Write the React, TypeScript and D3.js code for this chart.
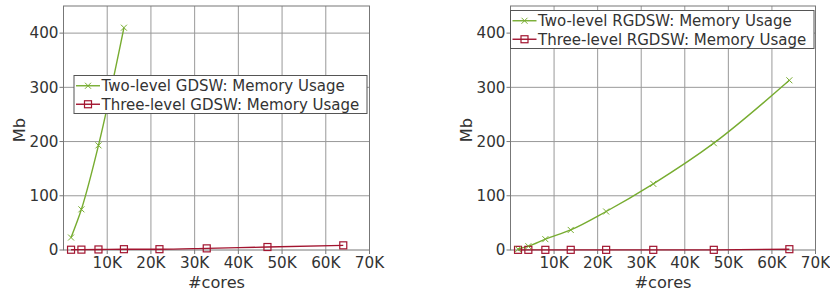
import React from "react";
import * as d3 from "d3";

const cores = [1728, 4096, 8000, 13824, 21952, 32768, 46656, 64000];
const twoGDSW = [23, 75, 193, 410];
const threeGDSW = [0.5, 0.7, 1, 1.5, 1.5, 3, 5.5, 8.6];
const twoRGDSW = [1.5, 7, 20, 37, 71, 122, 197, 313];
const threeRGDSW = [0.3, 0.3, 0.3, 0.3, 0.3, 0.3, 0.3, 1.5];
const xTicks = [10000, 20000, 30000, 40000, 50000, 60000, 70000];
const yTicks = [0, 100, 200, 300, 400];
const legendLeft = ["Two-level GDSW: Memory Usage", "Three-level GDSW: Memory Usage"];
const legendRight = ["Two-level RGDSW: Memory Usage", "Three-level RGDSW: Memory Usage"];

const GREEN = "#77ac30";
const RED = "#a2142f";
const FONT = "DejaVu Sans, sans-serif";
const TXT = "#333";
const TICK_FS = 15.2;
const LEG_FS = 15;
const TITLE_FS = 16.2;

type PanelProps = {
  x0: number;
  x1: number;
  green: number[];
  red: number[];
  legend: string[];
  lx0: number;
  lx1: number;
  ly0: number;
};

function Marker({ kind, x, y }: { kind: string; x: number; y: number }) {
  if (kind === "x") {
    const s = 3;
    return (
      <g stroke={GREEN} strokeWidth={1}>
        <line x1={x - s} y1={y - s} x2={x + s} y2={y + s} />
        <line x1={x - s} y1={y + s} x2={x + s} y2={y - s} />
      </g>
    );
  }
  return <rect x={x - 3.5} y={y - 3.5} width={7} height={7} fill="none" stroke={RED} strokeWidth={1.2} />;
}

function Panel({ x0, x1, green, red, legend, lx0, lx1, ly0 }: PanelProps) {
  const top = 6;
  const bottom = 250;
  const x = d3.scaleLinear().domain([0, 70000]).range([x0, x1]);
  const y = d3.scaleLinear().domain([0, 450]).range([bottom, top]);
  const line = d3
    .line<[number, number]>()
    .x((d) => x(d[0]))
    .y((d) => y(d[1]))
    .curve(d3.curveMonotoneX);
  const gPts: [number, number][] = green.map((v, i) => [cores[i], v]);
  const rPts: [number, number][] = red.map((v, i) => [cores[i], v]);
  const rowH = 18.5;
  return (
    <g>
      <rect x={x0} y={top} width={x1 - x0} height={bottom - top} fill="white" />
      {xTicks.slice(0, -1).map((t) => (
        <line key={"gx" + t} x1={x(t)} x2={x(t)} y1={top} y2={bottom} stroke="#999" strokeWidth={1} />
      ))}
      {yTicks.slice(1).map((t) => (
        <line key={"gy" + t} x1={x0} x2={x1} y1={y(t)} y2={y(t)} stroke="#999" strokeWidth={1} />
      ))}
      <rect x={x0} y={top} width={x1 - x0} height={bottom - top} fill="none" stroke="#777" strokeWidth={1} />
      {yTicks.map((t) => (
        <g key={"ty" + t}>
          <line x1={x0 - 4} x2={x0} y1={y(t)} y2={y(t)} stroke="#777" />
          <text x={x0 - 5} y={y(t)} dy="0.35em" textAnchor="end" fontSize={TICK_FS} fontFamily={FONT} fill={TXT}>
            {t}
          </text>
        </g>
      ))}
      {xTicks.map((t) => (
        <g key={"tx" + t}>
          <line x1={x(t)} x2={x(t)} y1={bottom} y2={bottom + 4} stroke="#777" />
          <text x={x(t)} y={bottom + 18} textAnchor="middle" fontSize={TICK_FS} fontFamily={FONT} fill={TXT}>
            {t / 1000 + "K"}
          </text>
        </g>
      ))}
      <text x={(x0 + x1) / 2} y={288} textAnchor="middle" fontSize={TITLE_FS} fontFamily={FONT} fill={TXT}>
        #cores
      </text>
      <text
        transform={`translate(${x0 - 39},${(top + bottom) / 2 + 2}) rotate(-90)`}
        textAnchor="middle"
        fontSize={TITLE_FS}
        fontFamily={FONT}
        fill={TXT}
      >
        Mb
      </text>
      <path d={line(rPts) || ""} fill="none" stroke={RED} strokeWidth={1.4} />
      <path d={line(gPts) || ""} fill="none" stroke={GREEN} strokeWidth={1.4} />
      {rPts.map((p, i) => (
        <Marker key={"r" + i} kind="s" x={x(p[0])} y={y(p[1])} />
      ))}
      {gPts.map((p, i) => (
        <Marker key={"g" + i} kind="x" x={x(p[0])} y={y(p[1])} />
      ))}
      <rect x={lx0} y={ly0} width={lx1 - lx0} height={rowH * 2 + 1} fill="white" stroke="#555" strokeWidth={1} />
      {legend.map((s, i) => {
        const cy = ly0 + rowH / 2 + 1 + i * rowH;
        const c = i === 0 ? GREEN : RED;
        return (
          <g key={"lg" + i}>
            <line x1={lx0 + 2} x2={lx0 + 26} y1={cy} y2={cy} stroke={c} strokeWidth={1.4} />
            <Marker kind={i === 0 ? "x" : "s"} x={lx0 + 14} y={cy} />
            <text x={lx0 + 27.5} y={cy} dy="0.36em" fontSize={LEG_FS} fontFamily={FONT} fill={TXT}>
              {s}
            </text>
          </g>
        );
      })}
    </g>
  );
}

export default function App() {
  return (
    <svg width={830} height={292} style={{ position: "absolute", left: 0, top: 0, background: "white" }}>
      <Panel x0={63.5} x1={369.5} green={twoGDSW} red={threeGDSW} legend={legendLeft} lx0={74} lx1={367} ly0={75.5} />
      <Panel x0={510.5} x1={815.5} green={twoRGDSW} red={threeRGDSW} legend={legendRight} lx0={510.5} lx1={814} ly0={10.5} />
    </svg>
  );
}
